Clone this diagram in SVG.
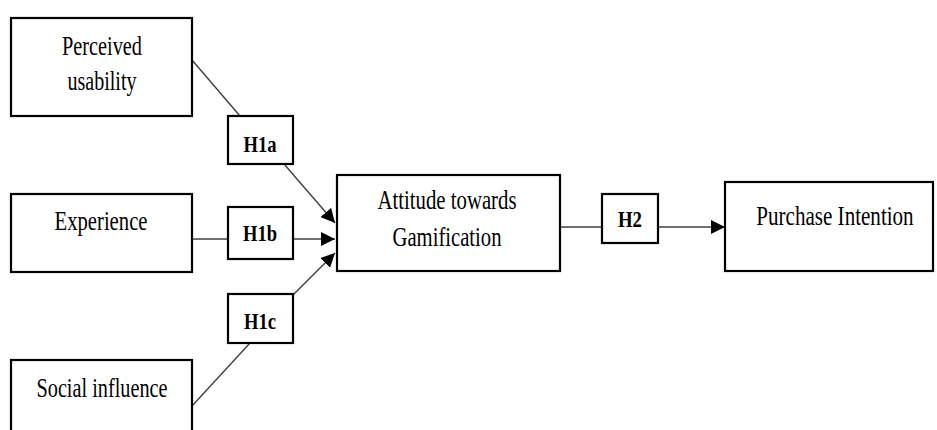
<svg xmlns="http://www.w3.org/2000/svg" width="937" height="430" viewBox="0 0 937 430">
<style>
.box{fill:#fff;stroke:#000;stroke-width:2.2}
.t{font-family:"Liberation Serif","Times New Roman",serif;font-size:27px;fill:#000}
.h{font-family:"Liberation Serif","Times New Roman",serif;font-size:23px;font-weight:bold;fill:#000}
.c{stroke:#404040;stroke-width:1.4;fill:none}
</style>
<defs>
<marker id="arr" markerWidth="14" markerHeight="14" refX="14" refY="7" orient="auto" markerUnits="userSpaceOnUse">
<path d="M0,0 L14,7 L0,14 Z" fill="#000"/>
</marker>
</defs>
<rect width="937" height="430" fill="#fff"/>
<g id="connectors">
<line class="c" x1="192" y1="60" x2="240" y2="116"/>
<line class="c" x1="284" y1="164" x2="335" y2="223" marker-end="url(#arr)"/>
<line class="c" x1="192" y1="239" x2="228" y2="239"/>
<line class="c" x1="293" y1="239" x2="335" y2="239" marker-end="url(#arr)"/>
<line class="c" x1="192" y1="406" x2="250" y2="343"/>
<line class="c" x1="293" y1="295" x2="335" y2="253" marker-end="url(#arr)"/>
<line class="c" x1="560" y1="227" x2="602" y2="227"/>
<line class="c" x1="658" y1="227" x2="725" y2="227" marker-end="url(#arr)"/>
</g>
<g id="perceived-usability">
<rect class="box" x="11" y="18" width="181" height="98"/>
<text class="t" x="102" y="55" text-anchor="middle" textLength="80" lengthAdjust="spacingAndGlyphs">Perceived</text>
<text class="t" x="102" y="90" text-anchor="middle" textLength="69" lengthAdjust="spacingAndGlyphs">usability</text>
</g>
<g id="experience">
<rect class="box" x="11" y="194" width="181" height="78"/>
<text class="t" x="101" y="230" text-anchor="middle" textLength="93" lengthAdjust="spacingAndGlyphs">Experience</text>
</g>
<g id="social-influence">
<rect class="box" x="11" y="360" width="181" height="90"/>
<text class="t" x="102" y="397" text-anchor="middle" textLength="131" lengthAdjust="spacingAndGlyphs">Social influence</text>
</g>
<g id="h1a">
<rect class="box" x="228" y="116" width="65" height="48"/>
<text class="h" x="260" y="152" text-anchor="middle" textLength="33" lengthAdjust="spacingAndGlyphs">H1a</text>
</g>
<g id="h1b">
<rect class="box" x="228" y="207" width="65" height="52"/>
<text class="h" x="260" y="241" text-anchor="middle" textLength="34" lengthAdjust="spacingAndGlyphs">H1b</text>
</g>
<g id="h1c">
<rect class="box" x="228" y="294" width="65" height="49"/>
<text class="h" x="260" y="329" text-anchor="middle" textLength="32" lengthAdjust="spacingAndGlyphs">H1c</text>
</g>
<g id="attitude">
<rect class="box" x="337" y="175" width="223" height="96"/>
<text class="t" x="447" y="209" text-anchor="middle" textLength="139" lengthAdjust="spacingAndGlyphs">Attitude towards</text>
<text class="t" x="447" y="246" text-anchor="middle" textLength="109" lengthAdjust="spacingAndGlyphs">Gamification</text>
</g>
<g id="h2">
<rect class="box" x="602" y="194" width="56" height="49"/>
<text class="h" x="630" y="227" text-anchor="middle" textLength="24" lengthAdjust="spacingAndGlyphs">H2</text>
</g>
<g id="purchase-intention">
<rect class="box" x="725" y="182" width="208" height="89"/>
<text class="t" transform="translate(835,225) scale(0.78,1)" x="0" y="0" text-anchor="middle">Purchase Intention</text>
</g>
</svg>
